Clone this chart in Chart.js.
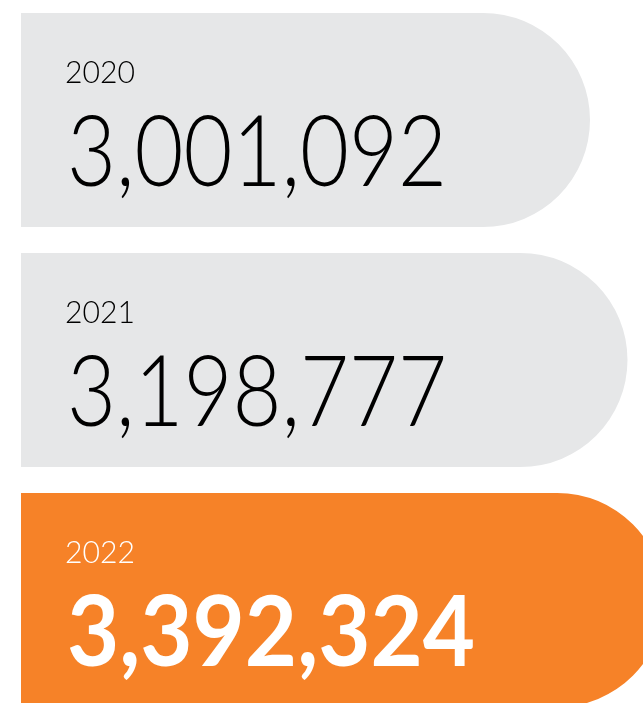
<!DOCTYPE html>
<html>
<head>
<meta charset="utf-8">
<script src="https://cdn.jsdelivr.net/npm/chart.js"></script>
<style>
  html, body { margin: 0; padding: 0; background: #fff; overflow: hidden; }
  #wrap { position: relative; width: 643px; height: 720px; }
</style>
</head>
<body>
<div id="wrap"><canvas id="totales-chart"></canvas></div>
<script>
// datos
var anios = ['2020', '2021', '2022'];
var totales = [3001092, 3198777, 3392324];
var colores = ['#e6e7e8', '#e6e7e8', '#f68228'];
var coloresTexto = ['#000000', '#000000', '#ffffff'];

function formatear(n) {
    return n.toLocaleString('en-US');
}

// dibuja el año y el total dentro de cada barra
var etiquetas = {
    id: 'etiquetas',
    afterDatasetsDraw: function (chart) {
        var ctx = chart.ctx;
        var meta = chart.getDatasetMeta(0);
        meta.data.forEach(function (bar, i) {
            var top = bar.y - bar.height / 2;
            var left = bar.base;
            var destacado = i === 2;
            ctx.save();
            ctx.fillStyle = coloresTexto[i];
            ctx.textBaseline = 'alphabetic';
            ctx.textAlign = 'left';

            ctx.font = '300 31px Lato';
            ctx.fillText(anios[i], left + 44, top + 70, 70);

            ctx.font = (destacado ? '700' : '300') + ' 98px Lato';
            ctx.fillText(formatear(totales[i]), left + 46, top + 173, destacado ? 408 : 380);
            ctx.restore();
        });
    }
};

var ctx = document.getElementById('totales-chart').getContext('2d');
var chart = new Chart(ctx, {
    type: 'bar',
    data: {
        labels: anios,
        datasets: [{
            data: totales,
            backgroundColor: colores,
            borderWidth: 0,
            borderSkipped: false,
            borderRadius: { topLeft: 0, bottomLeft: 0, topRight: 107, bottomRight: 107 },
            categoryPercentage: 1,
            barPercentage: 0.892
        }]
    },
    options: {
        indexAxis: 'y',
        responsive: true,
        maintainAspectRatio: false,
        animation: false,
        layout: { padding: { left: 21, right: 0, top: 0, bottom: 0 } },
        plugins: {
            legend: { display: false },
            tooltip: { enabled: false }
        },
        scales: {
            x: { display: false, min: 0, max: 3280620 },
            y: { display: false }
        }
    },
    plugins: [etiquetas]
});
</script>
</body>
</html>
